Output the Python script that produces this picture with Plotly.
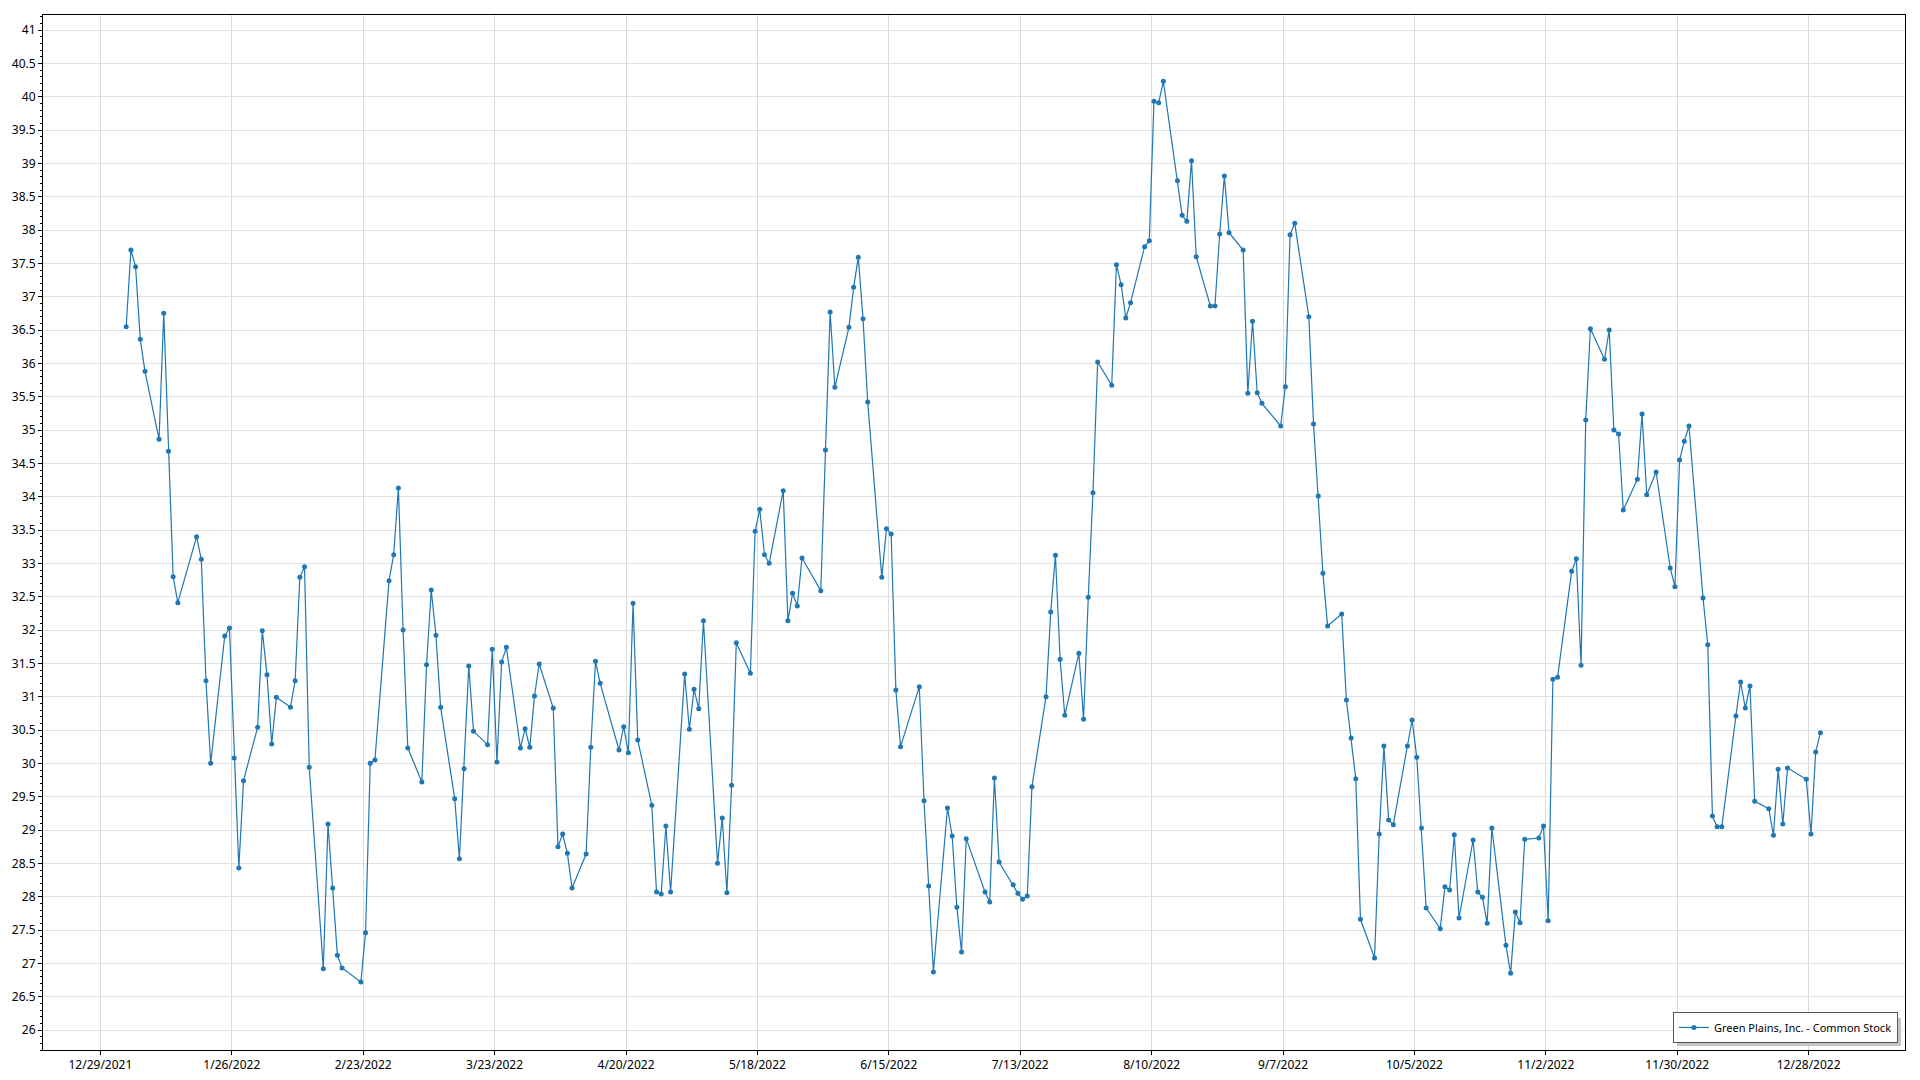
import pandas as pd
import plotly.graph_objects as go

series_name = "Green Plains, Inc. - Common Stock"

dates = [
    "2022-01-03", "2022-01-04", "2022-01-05", "2022-01-06", "2022-01-07",
    "2022-01-10", "2022-01-11", "2022-01-12", "2022-01-13", "2022-01-14",
    "2022-01-18", "2022-01-19", "2022-01-20", "2022-01-21",
    "2022-01-24", "2022-01-25", "2022-01-26", "2022-01-27", "2022-01-28",
    "2022-01-31", "2022-02-01", "2022-02-02", "2022-02-03", "2022-02-04",
    "2022-02-07", "2022-02-08", "2022-02-09", "2022-02-10", "2022-02-11",
    "2022-02-14", "2022-02-15", "2022-02-16", "2022-02-17", "2022-02-18",
    "2022-02-22", "2022-02-23", "2022-02-24", "2022-02-25",
    "2022-02-28", "2022-03-01", "2022-03-02", "2022-03-03", "2022-03-04",
    "2022-03-07", "2022-03-08", "2022-03-09", "2022-03-10", "2022-03-11",
    "2022-03-14", "2022-03-15", "2022-03-16", "2022-03-17", "2022-03-18",
    "2022-03-21", "2022-03-22", "2022-03-23", "2022-03-24", "2022-03-25",
    "2022-03-28", "2022-03-29", "2022-03-30", "2022-03-31", "2022-04-01",
    "2022-04-04", "2022-04-05", "2022-04-06", "2022-04-07", "2022-04-08",
    "2022-04-11", "2022-04-12", "2022-04-13", "2022-04-14",
    "2022-04-18", "2022-04-19", "2022-04-20", "2022-04-21", "2022-04-22",
    "2022-04-25", "2022-04-26", "2022-04-27", "2022-04-28", "2022-04-29",
    "2022-05-02", "2022-05-03", "2022-05-04", "2022-05-05", "2022-05-06",
    "2022-05-09", "2022-05-10", "2022-05-11", "2022-05-12", "2022-05-13",
    "2022-05-16", "2022-05-17", "2022-05-18", "2022-05-19", "2022-05-20",
    "2022-05-23", "2022-05-24", "2022-05-25", "2022-05-26", "2022-05-27",
    "2022-05-31", "2022-06-01", "2022-06-02", "2022-06-03",
    "2022-06-06", "2022-06-07", "2022-06-08", "2022-06-09", "2022-06-10",
    "2022-06-13", "2022-06-14", "2022-06-15", "2022-06-16", "2022-06-17",
    "2022-06-21", "2022-06-22", "2022-06-23", "2022-06-24",
    "2022-06-27", "2022-06-28", "2022-06-29", "2022-06-30", "2022-07-01",
    "2022-07-05", "2022-07-06", "2022-07-07", "2022-07-08",
    "2022-07-11", "2022-07-12", "2022-07-13", "2022-07-14", "2022-07-15",
    "2022-07-18", "2022-07-19", "2022-07-20", "2022-07-21", "2022-07-22",
    "2022-07-25", "2022-07-26", "2022-07-27", "2022-07-28", "2022-07-29",
    "2022-08-01", "2022-08-02", "2022-08-03", "2022-08-04", "2022-08-05",
    "2022-08-08", "2022-08-09", "2022-08-10", "2022-08-11", "2022-08-12",
    "2022-08-15", "2022-08-16", "2022-08-17", "2022-08-18", "2022-08-19",
    "2022-08-22", "2022-08-23", "2022-08-24", "2022-08-25", "2022-08-26",
    "2022-08-29", "2022-08-30", "2022-08-31", "2022-09-01", "2022-09-02",
    "2022-09-06", "2022-09-07", "2022-09-08", "2022-09-09",
    "2022-09-12", "2022-09-13", "2022-09-14", "2022-09-15", "2022-09-16",
    "2022-09-19", "2022-09-20", "2022-09-21", "2022-09-22", "2022-09-23",
    "2022-09-26", "2022-09-27", "2022-09-28", "2022-09-29", "2022-09-30",
    "2022-10-03", "2022-10-04", "2022-10-05", "2022-10-06", "2022-10-07",
    "2022-10-10", "2022-10-11", "2022-10-12", "2022-10-13", "2022-10-14",
    "2022-10-17", "2022-10-18", "2022-10-19", "2022-10-20", "2022-10-21",
    "2022-10-24", "2022-10-25", "2022-10-26", "2022-10-27", "2022-10-28",
    "2022-10-31", "2022-11-01", "2022-11-02", "2022-11-03", "2022-11-04",
    "2022-11-07", "2022-11-08", "2022-11-09", "2022-11-10", "2022-11-11",
    "2022-11-14", "2022-11-15", "2022-11-16", "2022-11-17", "2022-11-18",
    "2022-11-21", "2022-11-22", "2022-11-23", "2022-11-25",
    "2022-11-28", "2022-11-29", "2022-11-30", "2022-12-01", "2022-12-02",
    "2022-12-05", "2022-12-06", "2022-12-07", "2022-12-08", "2022-12-09",
    "2022-12-12", "2022-12-13", "2022-12-14", "2022-12-15", "2022-12-16",
    "2022-12-19", "2022-12-20", "2022-12-21", "2022-12-22", "2022-12-23",
    "2022-12-27", "2022-12-28", "2022-12-29", "2022-12-30",
]

prices = [
    36.55, 37.70, 37.45, 36.36, 35.88,
    34.86, 36.75, 34.68, 32.80, 32.41,
    33.40, 33.06, 31.24, 30.00,
    31.91, 32.03, 30.08, 28.43, 29.74,
    30.54, 31.99, 31.33, 30.29, 30.99,
    30.84, 31.24, 32.79, 32.95, 29.94,
    26.92, 29.09, 28.13, 27.12, 26.93,
    26.72, 27.46, 30.00, 30.05,
    32.74, 33.13, 34.13, 32.00, 30.23,
    29.72, 31.48, 32.60, 31.92, 30.84,
    29.47, 28.57, 29.92, 31.46, 30.48,
    30.28, 31.71, 30.02, 31.52, 31.74,
    30.23, 30.52, 30.24, 31.01, 31.49,
    30.83, 28.75, 28.94, 28.65, 28.13,
    28.64, 30.24, 31.53, 31.20,
    30.20, 30.55, 30.16, 32.40, 30.35,
    29.37, 28.07, 28.04, 29.06, 28.07,
    31.34, 30.51, 31.11, 30.82, 32.14,
    28.50, 29.18, 28.06, 29.67, 31.81,
    31.35, 33.48, 33.81, 33.13, 33.00,
    34.09, 32.14, 32.55, 32.36, 33.08,
    32.59, 34.70, 36.77, 35.64,
    36.54, 37.14, 37.59, 36.67, 35.42,
    32.79, 33.52, 33.44, 31.10, 30.25,
    31.15, 29.44, 28.16, 26.87,
    29.33, 28.91, 27.84, 27.17, 28.87,
    28.07, 27.92, 29.78, 28.52,
    28.18, 28.05, 27.96, 28.01, 29.65,
    31.00, 32.27, 33.12, 31.56, 30.72,
    31.65, 30.66, 32.49, 34.06, 36.02,
    35.67, 37.48, 37.18, 36.68, 36.91,
    37.75, 37.84, 39.93, 39.91, 40.23,
    38.74, 38.22, 38.13, 39.04, 37.60,
    36.86, 36.86, 37.94, 38.81, 37.96,
    37.70, 35.55, 36.63, 35.56, 35.40,
    35.06, 35.65, 37.93, 38.10,
    36.70, 35.09, 34.01, 32.85, 32.06,
    32.24, 30.95, 30.38, 29.77, 27.66,
    27.08, 28.94, 30.26, 29.15, 29.08,
    30.26, 30.65, 30.09, 29.03, 27.83,
    27.52, 28.15, 28.10, 28.93, 27.68,
    28.85, 28.07, 27.99, 27.60, 29.03,
    27.27, 26.85, 27.77, 27.61, 28.86,
    28.88, 29.06, 27.64, 31.26, 31.29,
    32.88, 33.07, 31.47, 35.15, 36.52,
    36.06, 36.50, 35.00, 34.94, 33.80,
    34.26, 35.24, 34.03, 34.37,
    32.93, 32.65, 34.55, 34.83, 35.06,
    32.48, 31.78, 29.21, 29.05, 29.05,
    30.71, 31.22, 30.83, 31.16, 29.43,
    29.32, 28.92, 29.91, 29.09, 29.93,
    29.76, 28.94, 30.17, 30.46,
]

# points are plotted at mid-day of each trading date
x_vals = pd.to_datetime(dates) + pd.Timedelta(hours=12)

color = "#1f77b4"
font_family = "Segoe UI, Noto Sans, Open Sans, sans-serif"

fig = go.Figure()
fig.add_trace(go.Scatter(
    x=x_vals, y=prices, mode="lines+markers", name=series_name,
    line=dict(color=color, width=1.2),
    marker=dict(color=color, size=5),
))

fig.update_layout(
    width=1920, height=1080,
    margin=dict(l=43, r=15, t=15, b=30),
    paper_bgcolor="white", plot_bgcolor="white",
    font=dict(family=font_family, size=12, color="#000000"),
    showlegend=True,
    legend=dict(
        x=0.9962, y=0.0068, xanchor="right", yanchor="bottom",
        bgcolor="white", bordercolor="#555555", borderwidth=1,
        font=dict(size=11, color="#000000"),
    ),
    shapes=[dict(
        type="rect", xref="paper", yref="paper",
        x0=0.8776, x1=0.9979, y0=0.0039, y1=0.0309,
        fillcolor="#c4c4c4", line=dict(width=0), layer="above",
    )],
)

fig.update_xaxes(
    type="date", automargin=False,
    range=["2021-12-16 18:30", "2023-01-17 12:45"],
    tick0="2021-12-29", dtick=28 * 86400000,
    tickformat="%-m/%-d/%Y",
    showgrid=True, gridcolor="#dadada", gridwidth=1,
    showline=True, linecolor="#000000", linewidth=1, mirror=True,
    ticks="outside", ticklen=4, tickcolor="#000000",
    zeroline=False,
)
fig.update_yaxes(
    automargin=False,
    range=[25.7, 41.225],
    tick0=26, dtick=0.5,
    showgrid=True, gridcolor="#e2e2e2", gridwidth=1,
    showline=True, linecolor="#000000", linewidth=1, mirror=True,
    ticks="outside", ticklen=4, tickcolor="#000000",
    minor=dict(dtick=0.1, ticks="outside", ticklen=2, tickcolor="#000000", showgrid=False),
    zeroline=False,
)

fig.write_html(
    "out.html",
    config={"displayModeBar": False},
    post_script="document.body.style.margin='0';",
)
